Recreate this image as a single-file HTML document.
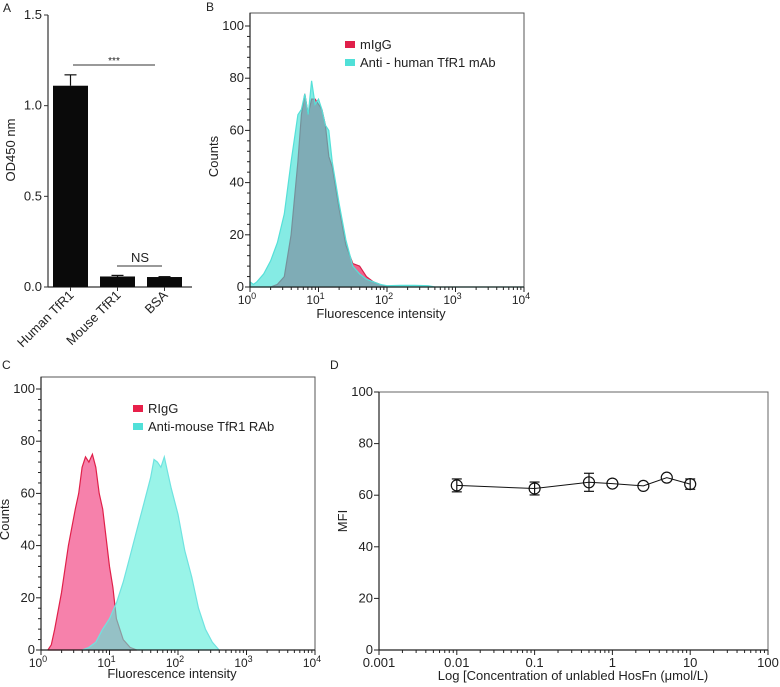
<!DOCTYPE html>
<html><head><meta charset="utf-8"><style>
html,body{margin:0;padding:0;background:#fff;}
svg{display:block;font-family:"Liberation Sans",Arial,sans-serif;}
text{fill:#222;}
</style></head><body>
<svg id="fig" width="780" height="687" viewBox="0 0 780 687" xmlns="http://www.w3.org/2000/svg">
<g id="A"></g>
<g id="B"></g>
<g id="C"></g>
<g id="D"></g>
</svg>
<script>
// Panel A data
const aCategories = ["Human TfR1","Mouse TfR1","BSA"];
const aValues = [1.11, 0.058, 0.055];
const aErrors = [0.06, 0.006, 0.002];
const aTicks = [0, 0.5, 1.0, 1.5];
// Panel B data (log10 intensity, counts)
const bRedX = [0.3,0.4,0.5,0.6,0.7,0.75,0.8,0.85,0.9,0.95,1.0,1.05,1.1,1.15,1.2,1.3,1.4,1.5,1.6,1.7,1.8,1.9,2.0];
const bRedY = [0,1,4,20,48,66,74,66,72,72,70,68,62,50,46,30,16,9,8,4,2,1,0];
const bCyanX = [0,0.05,0.1,0.2,0.3,0.4,0.5,0.6,0.7,0.75,0.8,0.85,0.9,0.95,1.0,1.05,1.1,1.15,1.2,1.3,1.4,1.5,1.6,1.7,1.8,1.9,2.0,2.2,2.4,2.6,2.7,4.0];
const bCyanY = [2,1,2,5,10,17,28,48,66,68,74,66,79,70,72,68,62,60,48,32,18,8,5,3,2,1,0.5,0.6,0.6,0.5,0,0];
// Panel C data
const cRedX = [0.1,0.15,0.2,0.3,0.4,0.5,0.55,0.6,0.65,0.7,0.75,0.8,0.85,0.9,1.0,1.05,1.1,1.2,1.3,1.4];
const cRedY = [0,2,8,22,40,54,60,70,74,72,75,70,60,54,32,24,12,4,1,0];
const cCyanX = [0.6,0.7,0.8,0.9,0.95,1.0,1.1,1.2,1.3,1.4,1.5,1.6,1.65,1.7,1.75,1.8,1.85,1.9,2.0,2.1,2.2,2.3,2.4,2.5,2.6];
const cCyanY = [0,1,3,8,10,12,18,26,36,46,56,66,73,72,70,74,68,62,52,38,28,16,8,3,0];
// Panel D data
const dConc = [0.01,0.1,0.5,1,2.5,5,10];
const dMFI = [63.8,62.6,65,64.5,63.6,66.8,64.3];
const dErr = [2.5,2.5,3.5,0,0,0,2];
const dXTicks = ["0.001","0.01","0.1","1","10","100"];
const histYTicks = [0,20,40,60,80,100];

const NS="http://www.w3.org/2000/svg";
function el(parent,tag,attrs,text){const e=document.createElementNS(NS,tag);for(const k in attrs)e.setAttribute(k,attrs[k]);if(text!==undefined)e.textContent=text;parent.appendChild(e);return e;}
function line(p,x1,y1,x2,y2,c,w){return el(p,'line',{x1:x1,y1:y1,x2:x2,y2:y2,stroke:c||'#222','stroke-width':w||1});}

// ---------- Panel A
(function(){
const g=document.getElementById('A');
const y0=287, yTop=15, ax=48;
const ys=v=>y0-(v/1.5)*(y0-yTop);
const xc=i=>70.5+i*47;
let t=el(g,'text',{x:3,y:12,'font-size':12},'A');


line(g,ax,yTop,ax,y0,'#333',1.2);
line(g,ax,y0,192,y0,'#333',1.2);
aTicks.forEach(v=>{line(g,ax-4,ys(v),ax,ys(v),'#333');
 const tt=el(g,'text',{x:ax-6,y:ys(v)+4,'font-size':13,'text-anchor':'end'},v.toFixed(1));
 
 });
const yl=el(g,'text',{transform:'translate(15,150) rotate(-90)','font-size':13,'text-anchor':'middle'},'OD450 nm');


aValues.forEach((v,i)=>{
 const b=el(g,'rect',{x:xc(i)-17.5,y:ys(v),width:35,height:y0-ys(v),fill:'#0a0a0a'});
 
 
 const ye=ys(v+aErrors[i]);
 line(g,xc(i),ye,xc(i),ys(v),'#111',1.2);
 line(g,xc(i)-6,ye,xc(i)+6,ye,'#111',1.2);
 line(g,xc(i),y0,xc(i),y0+4,'#333');
 const lab=el(g,'text',{transform:`translate(${xc(i)+4},${y0+9}) rotate(-45)`,'font-size':13,'text-anchor':'end'},aCategories[i]);
 
 
});
line(g,73,65,155,65,'#333',1);
const s1=el(g,'text',{x:114,y:64,'font-size':10,'text-anchor':'middle'},'***');


line(g,117,266,162,266,'#333',1);
const s2=el(g,'text',{x:140,y:262,'font-size':13,'text-anchor':'middle'},'NS');


})();

// ---------- histogram panels
function histPanel(id,letter,lx,ly,L,R,T,Y0,Y100,series,legend,legX,legY,ylabX,xlabY){
 const g=document.getElementById(id);
 const xs=l=>L+(R-L)*l/4;
 const ys=v=>Y0-(Y0-Y100)*v/100;
 const pl=el(g,'text',{x:lx,y:ly,'font-size':12},letter);
 
 
 series.forEach(s=>{
  let d='M'+xs(s.x[0])+','+Y0;
  s.x.forEach((x,i)=>{d+=' L'+xs(x).toFixed(1)+','+ys(s.y[i]).toFixed(1);});
  d+=' L'+xs(s.x[s.x.length-1])+','+Y0+' Z';
  const p=el(g,'path',{d:d,fill:s.fill,'fill-opacity':s.op,stroke:s.stroke,'stroke-width':1.2});
  
  
 });
 el(g,'rect',{x:L,y:T,width:R-L,height:Y0-T,fill:'none',stroke:'#555','stroke-width':1});
 line(g,L,T,L,Y0,'#222',1.2);line(g,L,Y0,R,Y0,'#222',1.2);
 histYTicks.forEach(v=>{line(g,L-5,ys(v),L,ys(v),'#222');
  const t=el(g,'text',{x:L-6,y:ys(v)+4,'font-size':13,'text-anchor':'end'},String(v));
  
  });
 for(let v=4;v<100;v+=4){if(v%20)line(g,L-3,ys(v),L,ys(v),'#222');}
 for(let dc=0;dc<=4;dc++){
  line(g,xs(dc),Y0,xs(dc),Y0+5,'#222');
  const t=el(g,'text',{x:xs(dc)-3,y:Y0+17,'font-size':12,'text-anchor':'middle'},'10');
  el(t,'tspan',{dy:-5,'font-size':9},String(dc));
  
  
  if(dc<4)for(let m=2;m<10;m++)line(g,xs(dc+Math.log10(m)),Y0,xs(dc+Math.log10(m)),Y0+3,'#222');
 }
 const yt=el(g,'text',{transform:`translate(${ylabX},${(Y0+Y100)/2}) rotate(-90)`,'font-size':13,'text-anchor':'middle'},'Counts');
 
 
 const xt=el(g,'text',{x:(L+R)/2-6,y:xlabY,'font-size':13,'text-anchor':'middle'},'Fluorescence intensity');
 
 
 legend.forEach((lg,i)=>{
  const r=el(g,'rect',{x:legX,y:legY+i*18-8,width:10,height:7,fill:lg.c});
  
  
  const t=el(g,'text',{x:legX+15,y:legY+i*18,'font-size':13},lg.t);
  
  
 });
}
histPanel('B','B',206,11,250,524,13,287,26,[
 {x:bRedX,y:bRedY,fill:'#f0527f',op:0.9,stroke:'#d8204a',name:'migg-histogram'},
 {x:bCyanX,y:bCyanY,fill:'#33ddd2',op:0.6,stroke:'#55e0d8',name:'anti-human-tfr1-histogram'}],
 [{c:'#e0204a',t:'mIgG'},{c:'#50e0d8',t:'Anti - human TfR1 mAb'}],345,49,218,318);
histPanel('C','C',2,369,41,315,377,650,389,[
 {x:cRedX,y:cRedY,fill:'#f56b9c',op:0.85,stroke:'#e0204a',name:'rigg-histogram'},
 {x:cCyanX,y:cCyanY,fill:'#55edd8',op:0.6,stroke:'#6fe3e0',name:'anti-mouse-tfr1-histogram'}],
 [{c:'#e8204a',t:'RIgG'},{c:'#50e0d8',t:'Anti-mouse TfR1 RAb'}],133,413,9,678);

// ---------- Panel D
(function(){
const g=document.getElementById('D');
const L=379,R=768,T=392,Y0=650;
const xs=c=>L+(Math.log10(c)+3)*(R-L)/5;
const ys=v=>Y0-(Y0-T)*v/100;
const pl=el(g,'text',{x:330,y:369,'font-size':12},'D');


el(g,'rect',{x:L,y:T,width:R-L,height:Y0-T,fill:'none',stroke:'#666','stroke-width':1});
line(g,L,T,L,Y0,'#222',1.2);line(g,L,Y0,R,Y0,'#222',1.2);
histYTicks.forEach(v=>{line(g,L-5,ys(v),L,ys(v),'#222');
 const t=el(g,'text',{x:L-6,y:ys(v)+4,'font-size':13,'text-anchor':'end'},String(v));
 
 });
dXTicks.forEach((lab,i)=>{const x=L+i*(R-L)/5;line(g,x,Y0,x,Y0+5,'#222');
 const t=el(g,'text',{x:x,y:Y0+17,'font-size':13,'text-anchor':'middle'},lab);
 
 
 if(i<5)for(let m=2;m<10;m++){const xm=x+Math.log10(m)*(R-L)/5;line(g,xm,Y0,xm,Y0+3,'#222');}});
const yt=el(g,'text',{transform:`translate(347,${(Y0+T)/2}) rotate(-90)`,'font-size':13,'text-anchor':'middle'},'MFI');


const xt=el(g,'text',{x:573,y:680,'font-size':13,'text-anchor':'middle'},'Log [Concentration of unlabled HosFn (μmol/L)');


const pts=dConc.map((c,i)=>xs(c).toFixed(1)+','+ys(dMFI[i]).toFixed(1)).join(' ');
const pl2=el(g,'polyline',{points:pts,fill:'none',stroke:'#111','stroke-width':1});


dConc.forEach((c,i)=>{const x=xs(c),y=ys(dMFI[i]);
 if(dErr[i]>0){const y1=ys(dMFI[i]+dErr[i]),y2=ys(dMFI[i]-dErr[i]);
  line(g,x,y1,x,y2,'#111',1.2);line(g,x-5,y1,x+5,y1,'#111',1.2);line(g,x-5,y2,x+5,y2,'#111',1.2);}
 const m=el(g,'circle',{cx:x,cy:y,r:5.5,fill:'none',stroke:'#111','stroke-width':1.2});
 
 
});
})();
</script>
</body></html>
